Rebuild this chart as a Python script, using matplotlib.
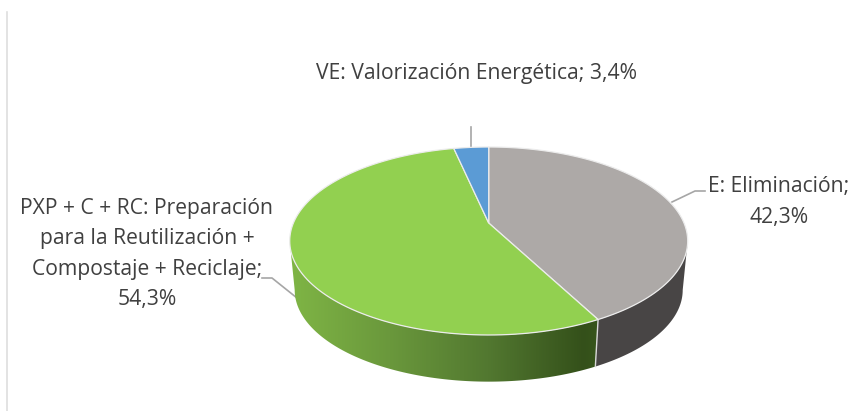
import numpy as np
import matplotlib
matplotlib.use('Agg')
import matplotlib.pyplot as plt
from matplotlib.colors import LinearSegmentedColormap
from matplotlib.patches import Polygon

categories = ['E: Eliminación', 'PXP + C + RC', 'VE: Valorización Energética']
values = [42.3, 54.3, 3.4]
slice_colors = ['#ada9a7', '#92d050', '#5b9bd5']
side_gray = '#484545'
green_ramp = [(0, '#7fb545'), (0.31, '#6a983c'), (0.62, '#527830'), (0.92, '#34501a'), (1, '#3a5a1e')]
text_color = '#404040'

# perspective of the tilted disc, in picture pixels
CX = 488.7
APEX_Y = 223.0
K = 195.3
A = -47.85
C = 0.1915


def disc_xy(theta, scale=1.0, drop=0.0):
    u, v = np.sin(theta), np.cos(theta)
    d = 1 + C * v
    x = CX + scale * K * u / d
    y = 241 + drop + scale * ((APEX_Y + A * v) / d - 241)
    return np.column_stack([x, y])


fig = plt.figure(figsize=(8.54, 4.11), dpi=100)
ax = fig.add_axes([0, 0, 1, 1])
ax.axis('off')

edges = np.cumsum([0] + values) / sum(values) * 2 * np.pi

# side wall
scale_b, drop_b = 0.975, 49.0
sil_right, sil_left = np.arccos(-C), 2 * np.pi - np.arccos(-C)
t_gray = np.linspace(sil_right, edges[1], 60)
ax.add_patch(Polygon(np.vstack([disc_xy(t_gray), disc_xy(t_gray[::-1], scale_b, drop_b)]),
                     fc=side_gray, ec='none', zorder=2))

t_green = np.linspace(edges[1], sil_left, 120)
wall = Polygon(np.vstack([disc_xy(t_green), disc_xy(t_green[::-1], scale_b, drop_b)]),
               fc='none', ec='none', zorder=3)
ax.add_patch(wall)
cmap = LinearSegmentedColormap.from_list('wall', green_ramp)
img = ax.imshow(np.linspace(0, 1, 256).reshape(1, -1), cmap=cmap, vmin=0, vmax=1,
                extent=[290, 610, 400, 240], aspect='auto', zorder=3)
img.set_clip_path(wall)
ax.set_xlim(0, 854)
ax.set_ylim(411, 0)

# wall seam
seam = disc_xy(np.array([edges[1]]))[0], disc_xy(np.array([edges[1]]), scale_b, drop_b)[0]
ax.plot([seam[0][0], seam[1][0]], [seam[0][1], seam[1][1]], color='#d9d9d9', lw=1, zorder=4)

# top faces
for i in range(len(values)):
    t = np.linspace(edges[i], edges[i + 1], 120)
    pts = np.vstack([[CX, APEX_Y], disc_xy(t)])
    ax.add_patch(Polygon(pts, fc=slice_colors[i], ec='#ececec', lw=0.9, zorder=5))

# leader lines
leader = '#a6a6a6'
ax.plot([471, 471], [127, 148], color=leader, lw=1.2, zorder=1)
ax.plot([672, 695, 705], [202, 191, 191], color=leader, lw=1.2, zorder=1)
ax.plot([262, 272, 297], [278, 278, 298], color=leader, lw=1.2, zorder=1)

# left frame line of the chart box
ax.plot([7.5, 7.5], [12, 411], color='#dedede', lw=1.2, zorder=0)

font = dict(family='Open Sans', color=text_color, fontsize=15.2, zorder=6)
ax.text(477, 73, 'VE: Valorización Energética; 3,4%', ha='center', va='center', **font)
ax.text(779, 202, 'E: Eliminación;\n42,3%', ha='center', va='center', linespacing=1.57, **font)
ax.text(147, 254, 'PXP + C + RC: Preparación\npara la Reutilización +\nCompostaje + Reciclaje;\n54,3%',
        ha='center', va='center', linespacing=1.57, **font)

plt.savefig('out.png', dpi=100)
